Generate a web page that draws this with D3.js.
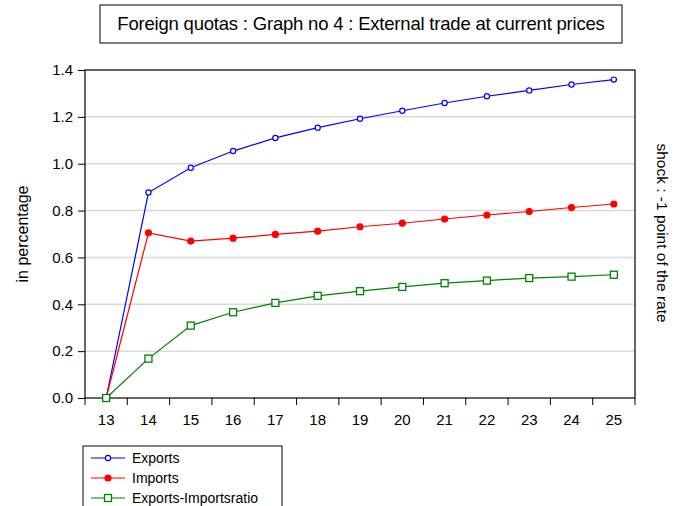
<!DOCTYPE html>
<html><head><meta charset="utf-8">
<script src="https://cdn.jsdelivr.net/npm/d3@7"></script>
<style>body{margin:0;background:#fff}svg{display:block;font-family:"Liberation Sans",Arial,sans-serif}</style>
</head><body>
<svg id="c" width="680" height="506"></svg>
<script>
const years = [13,14,15,16,17,18,19,20,21,22,23,24,25];
const exportsVals = [0,0.877,0.983,1.054,1.110,1.154,1.192,1.226,1.259,1.288,1.313,1.338,1.359];
const importsVals = [0,0.705,0.670,0.682,0.698,0.712,0.731,0.746,0.764,0.781,0.796,0.813,0.828];
const ratioVals = [0,0.168,0.309,0.366,0.406,0.436,0.456,0.474,0.490,0.501,0.512,0.518,0.526];
const yTicks = [0,0.2,0.4,0.6,0.8,1.0,1.2,1.4];
const seriesNames = ["Exports","Imports","Exports-Importsratio"];
const colors = ["#0000ff","#ff0000","#008000"];

const svg = d3.select("#c");
const L=85,R=635,T=70,B=398;
const x = d3.scaleBand().domain(years).range([L,R]);
const y = d3.scaleLinear().domain([0,1.4]).range([B,T]);

svg.append("g").selectAll("line").data(yTicks.filter(v=>v>0&&v<1.4)).join("line")
  .attr("x1",L).attr("x2",R).attr("y1",d=>y(d)).attr("y2",d=>y(d))
  .attr("stroke","#d9d9d9").attr("stroke-width",1.5);

svg.append("rect").attr("x",L).attr("y",T).attr("width",R-L).attr("height",B-T)
  .attr("fill","none").attr("stroke","#000").attr("stroke-width",1.2);

const ya = svg.append("g").attr("transform",`translate(${L},0)`)
  .call(d3.axisLeft(y).tickValues(yTicks).tickFormat(d3.format(".1f")).tickSize(7).tickPadding(5));
ya.select(".domain").remove();
ya.selectAll("text").attr("font-size",15).attr("fill","#000").attr("font-family","Liberation Sans, Arial, sans-serif");

const xa = svg.append("g").attr("transform",`translate(0,${B})`);
const bounds = years.map(d=>x(d)).concat([R]);
xa.selectAll("line").data(bounds).join("line")
  .attr("x1",d=>d).attr("x2",d=>d).attr("y1",0).attr("y2",7).attr("stroke","#000");
xa.selectAll("text").data(years).join("text")
  .attr("x",d=>x(d)+x.bandwidth()/2).attr("y",27).attr("text-anchor","middle")
  .attr("font-size",15).text(d=>d);

const cx = d=>x(d)+x.bandwidth()/2;
const allVals=[exportsVals,importsVals,ratioVals];
allVals.forEach((vals,i)=>{
  const data = years.map((yr,j)=>({yr,v:vals[j]}));
  svg.append("path").datum(data)
    .attr("d",d3.line().x(d=>cx(d.yr)).y(d=>y(d.v)))
    .attr("fill","none").attr("stroke",colors[i]).attr("stroke-width",1.2);
  const g = svg.append("g");
  if(i===2){
    g.selectAll("rect").data(data).join("rect")
      .attr("x",d=>cx(d.yr)-3.5).attr("y",d=>y(d.v)-3.5).attr("width",7).attr("height",7)
      .attr("fill","#fff").attr("stroke",colors[i]).attr("stroke-width",1.3);
  } else {
    g.selectAll("circle").data(data).join("circle")
      .attr("cx",d=>cx(d.yr)).attr("cy",d=>y(d.v)).attr("r",i===0?2.6:3)
      .attr("fill",i===0?"#fff":colors[i]).attr("stroke",colors[i]).attr("stroke-width",1.2);
  }
});

svg.append("rect").attr("x",100).attr("y",5).attr("width",522).attr("height",38)
  .attr("fill","#fff").attr("stroke","#000").attr("stroke-width",1);
svg.append("text").attr("x",361).attr("y",30).attr("text-anchor","middle")
  .attr("font-size",18.5).attr("letter-spacing",-0.2).text("Foreign quotas : Graph no 4 : External trade at current prices");

svg.append("text").attr("transform","translate(28,234) rotate(-90)").attr("text-anchor","middle")
  .attr("font-size",16).text("in percentage");
svg.append("text").attr("transform","translate(657,233) rotate(90)").attr("text-anchor","middle")
  .attr("font-size",15.5).text("shock : -1 point of the rate");

const lg = svg.append("g");
lg.append("rect").attr("x",83).attr("y",446).attr("width",199).attr("height",70)
  .attr("fill","#fff").attr("stroke","#000").attr("stroke-width",1);
seriesNames.forEach((n,i)=>{
  const yy = 458+i*20;
  lg.append("line").attr("x1",91).attr("x2",125).attr("y1",yy).attr("y2",yy).attr("stroke",colors[i]).attr("stroke-width",1.2);
  if(i===2) lg.append("rect").attr("x",104.5).attr("y",yy-3.5).attr("width",7).attr("height",7).attr("fill","#fff").attr("stroke",colors[i]).attr("stroke-width",1.3);
  else lg.append("circle").attr("cx",108).attr("cy",yy).attr("r",i===0?2.6:3).attr("fill",i===0?"#fff":colors[i]).attr("stroke",colors[i]).attr("stroke-width",1.2);
  lg.append("text").attr("x",132).attr("y",yy+5).attr("font-size",14).text(n);
});
</script>
</body></html>
